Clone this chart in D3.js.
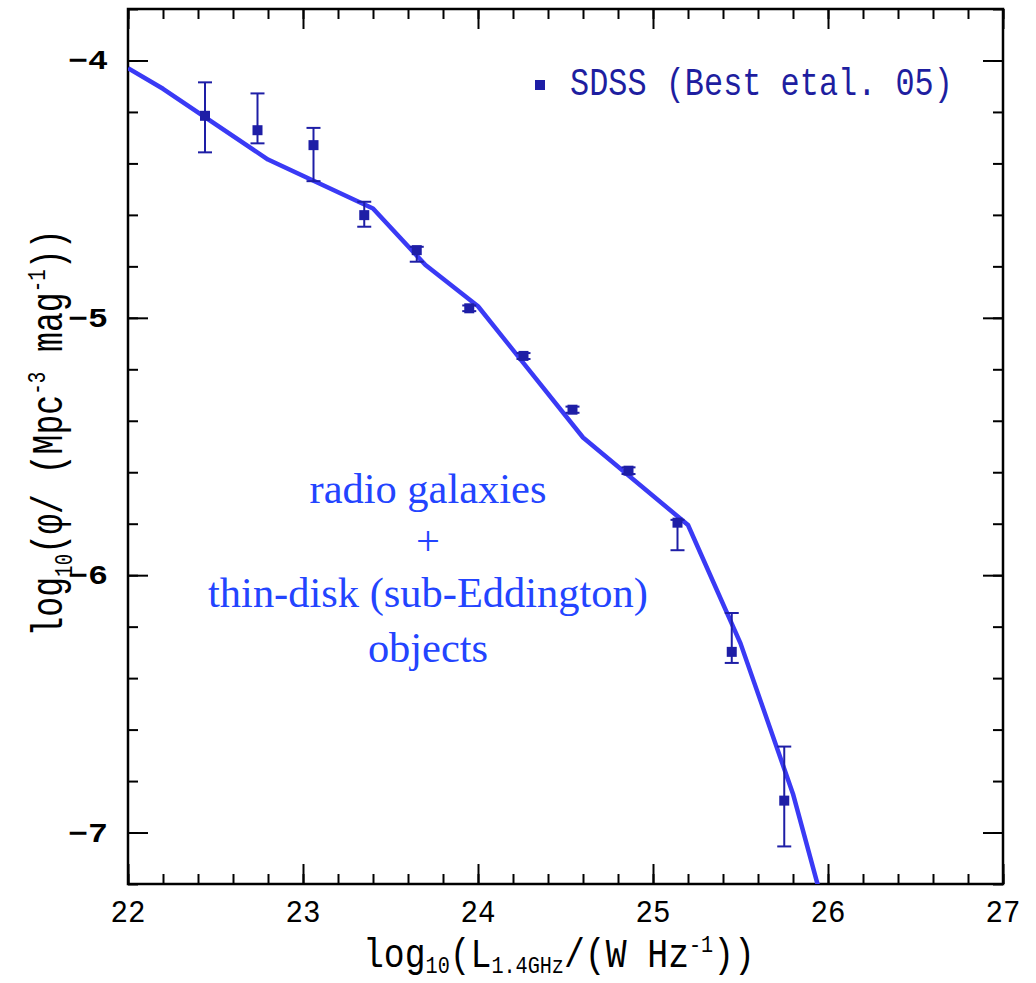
<!DOCTYPE html>
<html><head><meta charset="utf-8">
<script src="https://cdn.jsdelivr.net/npm/d3@7"></script>
<style>html,body{margin:0;padding:0;background:#fff;}svg{display:block;}</style>
</head><body>
<svg id="chart" width="1036" height="983"></svg>
<script>
// ---- data ----
const sdssLogL   = [22.44, 22.74, 23.06, 23.35, 23.65, 23.95, 24.26, 24.54, 24.86, 25.14, 25.45, 25.75];
const sdssLogPhi = [-4.215, -4.271, -4.329, -4.601, -4.737, -4.963, -5.148, -5.357, -5.594, -5.796, -6.298, -6.876];
const sdssErrHi  = [-4.085, -4.128, -4.262, -4.549, -4.724, -4.952, -5.137, -5.345, -5.581, -5.785, -6.147, -6.666];
const sdssErrLo  = [-4.357, -4.322, -4.469, -4.646, -4.782, -4.974, -5.160, -5.369, -5.607, -5.903, -6.341, -7.054];
const modelLogL   = [22.0, 22.2, 22.8, 23.4, 23.7, 24.0, 24.6, 25.2, 25.5, 25.8, 26.0];
const modelLogPhi = [-4.03, -4.11, -4.385, -4.575, -4.795, -4.955, -5.465, -5.805, -6.265, -6.85, -7.35];
const xMajorTicks = [22, 23, 24, 25, 26, 27];
const yMajorTicks = [-7, -6, -5, -4];
const legendLabel = "SDSS (Best etal. 05)";
const annotationLines = ["radio galaxies", "+", "thin-disk (sub-Eddington)", "objects"];

// ---- layout ----
const svg = d3.select("#chart");
const L = 128, R = 1003, T = 9, B = 884;
const x = d3.scaleLinear().domain([22, 27]).range([L, R]);
const y = d3.scaleLinear().domain([-7.2, -3.8]).range([B, T]);
const MONO = "'Liberation Mono', 'DejaVu Sans Mono', monospace";
const SERIF = "'Liberation Serif', 'DejaVu Serif', serif";
const lineCol = "#3a3af5", ptCol = "#1e1ea6", annCol = "#2344ff", legCol = "#1e1ea0";

svg.append("defs").append("clipPath").attr("id","clip")
  .append("rect").attr("x",L).attr("y",T).attr("width",R-L).attr("height",B-T);

const xMinor = d3.range(22, 27.001, 0.2);
const yMinor = d3.range(-7.2, -3.799, 0.2);
function axisGroup(axis, tx, ty){
  const g = svg.append("g").attr("transform",`translate(${tx},${ty})`).call(axis);
  g.select(".domain").remove();
  g.selectAll("text").remove();
  g.selectAll("line").attr("stroke","#000").attr("stroke-width",2);
  return g;
}
axisGroup(d3.axisBottom(x).tickValues(xMinor).tickSize(-10), 0, B);
axisGroup(d3.axisBottom(x).tickValues(xMajorTicks).tickSize(-20), 0, B);
axisGroup(d3.axisTop(x).tickValues(xMinor).tickSize(-10), 0, T);
axisGroup(d3.axisTop(x).tickValues(xMajorTicks).tickSize(-20), 0, T);
axisGroup(d3.axisLeft(y).tickValues(yMinor).tickSize(-10), L, 0);
axisGroup(d3.axisLeft(y).tickValues(yMajorTicks).tickSize(-20), L, 0);
axisGroup(d3.axisRight(y).tickValues(yMinor).tickSize(-10), R, 0);
axisGroup(d3.axisRight(y).tickValues(yMajorTicks).tickSize(-20), R, 0);

svg.append("rect").attr("x",L).attr("y",T).attr("width",R-L).attr("height",B-T)
  .attr("fill","none").attr("stroke","#000").attr("stroke-width",2.5);

function richText(parent, parts, size, family, weight, fill, subK){
  subK = subK || 0.25;
  const t = parent.append("text").attr("font-family",family).attr("font-size",size)
    .attr("font-weight",weight).attr("fill",fill);
  let shift = 0;
  parts.forEach(p=>{
    const target = p.sub ? size*subK : p.sup ? -size*0.38 : 0;
    const ts = t.append("tspan").text(p.t).attr("dy", target-shift);
    if (p.sub || p.sup) ts.attr("font-size", size*0.58);
    shift = target;
  });
  return t;
}
function place(t, cx, cy, targetW, rot, anchor){
  const bb = t.node().getBBox();
  const sx = targetW ? targetW / bb.width : 1;
  let off = -bb.x - bb.width/2;
  if (anchor === "end") off = -bb.x - bb.width;
  if (anchor === "start") off = -bb.x;
  t.attr("transform", `translate(${cx},${cy}) rotate(${rot||0}) scale(${sx},1) translate(${off},0)`);
}

xMajorTicks.forEach(v=>{
  const t = richText(svg, [{t:String(v)}], 32, MONO, "normal", "#000");
  place(t, x(v), 922, 35, 0, "middle");
});
yMajorTicks.forEach(v=>{
  const t = richText(svg, [{t:"\u2212"+Math.abs(v)}], 27, MONO, "bold", "#000");
  place(t, 108, y(v)+9, 40, 0, "end");
});

const xt = richText(svg, [{t:"log"},{t:"10",sub:true},{t:"(L"},{t:"1.4GHz",sub:true},{t:"/(W Hz"},{t:"-1",sup:true},{t:"))"}], 40, MONO, "normal", "#000", 0.16);
place(xt, 559, 967, 392, 0, "middle");
const yt = richText(svg, [{t:"log"},{t:"10",sub:true},{t:"(\u03c6/ (Mpc"},{t:"-3",sup:true},{t:" mag"},{t:"-1",sup:true},{t:"))"}], 44, MONO, "normal", "#000", 0.22);
place(yt, 62, 433, 407, -90, "middle");

const lineData = modelLogL.map((v,i)=>[v, modelLogPhi[i]]);
svg.append("path").datum(lineData).attr("clip-path","url(#clip)")
  .attr("d", d3.line().x(d=>x(d[0])).y(d=>y(d[1])))
  .attr("fill","none").attr("stroke",lineCol).attr("stroke-width",4.5).attr("stroke-linejoin","round");

const pts = sdssLogL.map((v,i)=>({x:v, y:sdssLogPhi[i], hi:sdssErrHi[i], lo:sdssErrLo[i]}));
const pg = svg.append("g");
pg.selectAll("line.eb").data(pts).join("line").attr("class","eb")
  .attr("x1",d=>x(d.x)).attr("x2",d=>x(d.x)).attr("y1",d=>y(d.hi)).attr("y2",d=>y(d.lo))
  .attr("stroke",ptCol).attr("stroke-width",2);
pg.selectAll("line.ct").data(pts).join("line").attr("class","ct")
  .attr("x1",d=>x(d.x)-7).attr("x2",d=>x(d.x)+7).attr("y1",d=>y(d.hi)).attr("y2",d=>y(d.hi))
  .attr("stroke",ptCol).attr("stroke-width",2);
pg.selectAll("line.cb").data(pts).join("line").attr("class","cb")
  .attr("x1",d=>x(d.x)-7).attr("x2",d=>x(d.x)+7).attr("y1",d=>y(d.lo)).attr("y2",d=>y(d.lo))
  .attr("stroke",ptCol).attr("stroke-width",2);
pg.selectAll("rect").data(pts).join("rect")
  .attr("x",d=>x(d.x)-5).attr("y",d=>y(d.y)-5).attr("width",10).attr("height",10)
  .attr("fill",ptCol);

svg.append("rect").attr("x",535).attr("y",80).attr("width",10).attr("height",10).attr("fill",ptCol);
const lt = richText(svg, [{t:legendLabel}], 38, MONO, "normal", legCol);
place(lt, 570, 95, 383, 0, "start");

const annBase = [503, 555, 607, 662];
const ag = svg.append("g");
const probe = ag.append("text").attr("font-family",SERIF).attr("font-size",36).text(annotationLines[2]);
const pw = probe.node().getComputedTextLength();
probe.remove();
const annSize = 36 * 440 / pw;
annotationLines.forEach((s,i)=>{
  ag.append("text").attr("x",428).attr("y",annBase[i]).attr("text-anchor","middle")
    .attr("font-family",SERIF).attr("font-size",annSize).attr("fill",annCol).text(s);
});
</script>
</body></html>
